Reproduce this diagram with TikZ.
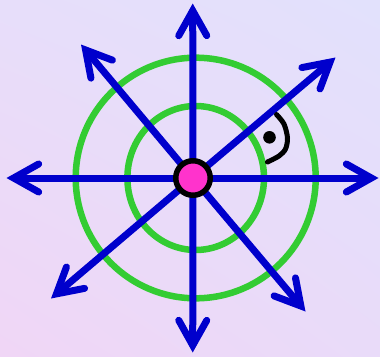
\documentclass[tikz,border=0pt]{standalone}
\usetikzlibrary{arrows.meta,shadings}
\definecolor{bgA}{RGB}{231,222,250}
\definecolor{bgB}{RGB}{226,225,252}
\definecolor{bgC}{RGB}{240,214,246}
\definecolor{bgD}{RGB}{233,219,249}
\definecolor{ringgreen}{RGB}{51,204,51}
\definecolor{arrblue}{RGB}{0,0,204}
\definecolor{dotpink}{RGB}{255,51,204}
\tikzset{
  ring/.style={draw=ringgreen, line width=6.5pt},
  ray/.style={draw=arrblue, line width=7pt,
    -{Straight Barb[length=25pt, width=28pt, line cap=round, line join=miter]}},
  anglemark/.style={draw=black, line width=5pt, line cap=round, line join=round},
  hub/.style={circle, draw=black, fill=dotpink, line width=5.5pt, minimum size=34.5pt, inner sep=0pt}
}
\begin{document}
\begin{tikzpicture}[x=1pt,y=-1pt]
\useasboundingbox (0,0) rectangle (380,356);
\shade[upper left=bgA, upper right=bgB, lower left=bgC, lower right=bgD] (0,0) rectangle (380,356);
\coordinate (C) at (193,178);
\coordinate (G) at (195.7,178);
\coordinate (N) at (192.7,3.5);
\coordinate (S) at (192.7,352.5);
\coordinate (W) at (6.5,178);
\coordinate (E) at (378.5,178);
\coordinate (NW) at (81,44.5);
\coordinate (SE) at (305.5,311.5);
\coordinate (NE) at (335.5,57.5);
\coordinate (SW) at (51,298.5);
% rings
\draw[ring] (G) circle[x radius=120, y radius=120.3];
\draw[ring] (G) ellipse[x radius=68.3, y radius=72];
% rays
\foreach \t in {N,S,W,E,NW,SE,NE,SW} \draw[ray] (C) -- (\t);
% right angle mark
\draw[anglemark] plot[smooth] coordinates {(276.5,114.5) (284,124) (287.5,138) (285.5,149) (279,156) (267.5,162)};
\fill[black] (269.5,137.3) circle[radius=6.3];
% hub
\node[hub] (hub) at (C) {};
\end{tikzpicture}
\end{document}
